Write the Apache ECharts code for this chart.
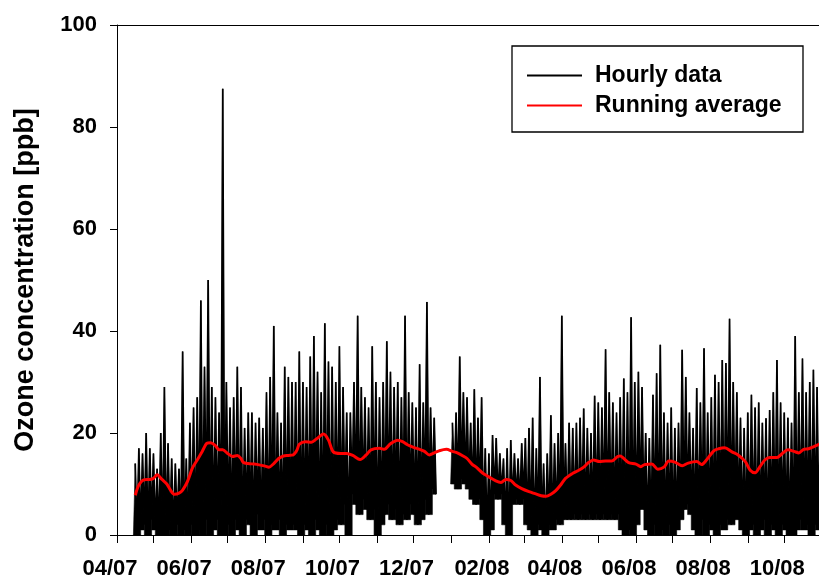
<!DOCTYPE html>
<html>
<head>
<meta charset="utf-8">
<title>Ozone concentration</title>
<script src="https://cdn.jsdelivr.net/npm/echarts@6/dist/echarts.min.js"></script>
<style>
  html, body { margin: 0; padding: 0; background: #fff; }
  #chart { width: 819px; height: 580px; }
</style>
</head>
<body>
<div id="chart"></div>
<script>
// Hourly ozone record, condensed to the highest and lowest reading of each 3-day block
const hourlyStart = '2007-04-16';
const hourlyStepDays = 3;
const hourlyHigh = [
  14, 17, 16, 20, 17, 16, 13, 20, 29, 18, 15, 14, 13, 36, 15, 22, 25, 27, 46, 33,
  50, 29, 27, 24, 87.5, 30, 25, 27, 33, 29, 21, 24, 24, 22, 23, 21, 28, 31, 41, 24,
  22, 33, 31, 30, 30, 36, 30, 29, 35, 39, 32, 28, 41.5, 34, 33, 30, 37, 29, 24, 24,
  30, 43, 29, 27, 25, 37, 30, 27, 30, 38, 32, 29, 30, 27, 43, 28, 26, 25, 33.5, 26,
  45.7, 25, 23, null, null, null, null, 22, 24, 35, 28, 27, 22, 28.6, 23, 27, 17, 16, 19.6, 19,
  16, 15, 17, 18.6, 16, 15, 18, 19, 21, 23, 17, 31, 14, 16, 23.5, 18, 20, 43, 18, 22,
  21, 22, 23, 24.8, 21, 20, 27.3, 26, 25, 36.4, 28, 26, 24, 27, 30.7, 28, 42.7, 30, 32, 29,
  20, 19, 27.5, 31.7, 37.3, 24, 22, 25, 21, 22, 36.3, 31, 24, 21, 28.8, 26, 36.6, 24, 27, 31.4,
  30, 34.3, 33.7, 42.4, 30, 28, 23, 21, 24, 27.5, 25, 26, 22, 22.9, 24.5, 28, 34.3, 26, 24, 23,
  22, 39, 28, 34.6, 28, 30, 32.4, 29, 27
];
const hourlyLow = [
  0, 1, 2, 0, 3, 1, 0, 0, 0, 1, 0, 2, 0, 1, 0, 2, 0, 1, 0, 3,
  0, 1, 3, 0, 0, 2, 0, 3, 1, 0, 3, 2, 0, 4, 1, 3, 0, 2, 1, 3,
  0, 2, 1, 2, 1, 0, 2, 1, 0, 3, 1, 0, 2, 0, 1, 3, 2, 6, 0, 8,
  6, 4, 7, 5, 3, 5, 0, 2, 4, 6, 3, 5, 2, 4, 3, 6, 4, 2, 3, 7,
  4, 9, 8, null, null, null, null, 10, 9, 11, 10, 9, 7, 6, 7, 3, 0, 1, 8, 7,
  8, 2, 0, 6, 7, 6, 7, 2, 1, 0, 2, 1, 0, 2, 1, 3, 2, 3, 3, 3,
  4, 3, 4, 3, 4, 3, 4, 3, 4, 3, 4, 3, 4, 1, 0, 1, 0, 2, 5, 5,
  1, 0, 2, 0, 1, 0, 2, 0, 1, 3, 5, 6, 4, 1, 0, 3, 0, 2, 1, 0,
  2, 1, 3, 2, 4, 3, 1, 0, 1, 2, 0, 1, 3, 0, 2, 1, 0, 2, 1, 0,
  0, 1, 3, 1, 2, 0, 2, 1, 3
];

// Running average: days after 1 April 2007 and the averaged concentration
const avgDay = [
  15, 18, 22, 27, 30, 33, 37, 41, 44, 47, 51, 54, 58, 62, 66, 70, 74, 77, 81, 84,
  87, 91, 95, 99, 102, 104, 108, 113, 118, 122, 125, 129, 133, 137, 141, 145, 148, 150, 155, 160,
  164, 170, 174, 178, 184, 189, 194, 200, 205, 209, 216, 220, 225, 231, 235, 239, 244, 249, 253, 257,
  261, 265, 271, 276, 280, 284, 288, 292, 296, 301, 306, 311, 316, 320, 324, 328, 333, 339, 344, 349,
  353, 357, 361, 365, 369, 375, 380, 384, 388, 392, 397, 402, 407, 412, 414, 417, 421, 427, 431, 434,
  440, 445, 450, 454, 459, 465, 470, 477, 481, 485, 491, 495, 500, 506, 511, 517, 521, 525, 529, 533,
  537, 543, 547, 552, 557, 561, 565, 569, 573, 578
];
const avgValue = [
  7.8, 9.8, 10.8, 10.9, 11.1, 11.8, 10.9, 10, 8.8, 8, 8.2, 8.8, 10.5, 13.1, 14.7, 16.3, 18, 18.1, 17.5, 16.7,
  16.7, 16, 15.4, 15.6, 15, 14.2, 14, 13.9, 13.7, 13.5, 13.3, 14, 15, 15.5, 15.6, 15.7, 16.6, 17.8, 18.3, 18.2,
  18.8, 19.8, 18.6, 16.3, 16, 16, 15.6, 14.8, 15.7, 16.7, 17, 16.8, 17.9, 18.6, 18.3, 17.7, 17.2, 16.8, 16.4, 15.7,
  16.1, 16.5, 16.8, 16.4, 16.1, 15.6, 15, 13.9, 13.2, 12.1, 11.4, 10.7, 10.3, 10.9, 10.7, 9.8, 9.1, 8.5, 8.1, 7.7,
  7.6, 8, 8.7, 9.8, 11.1, 12.1, 12.7, 13.3, 14.2, 14.7, 14.4, 14.5, 14.5, 15.4, 15.5, 15, 14.2, 13.9, 13.4, 13.8,
  13.9, 12.9, 13.3, 14.5, 14.3, 13.6, 14.1, 14.4, 13.8, 14.7, 16.5, 16.9, 17.1, 16.3, 15.7, 14.4, 12.7, 12.2, 13.4, 14.7,
  15.2, 15.2, 15.9, 16.7, 16.4, 16.1, 16.8, 16.9, 17.3, 17.8
];

// Axis ticks (every month) and labelled months
const axisStartDate = '2007-04-01';
const axisSpanDays = 577.6;
const tickMonths = [
  '2007-04-01', '2007-05-01', '2007-06-01', '2007-07-01', '2007-08-01', '2007-09-01', '2007-10-01',
  '2007-11-01', '2007-12-01', '2008-01-01', '2008-02-01', '2008-03-01', '2008-04-01', '2008-05-01',
  '2008-06-01', '2008-07-01', '2008-08-01', '2008-09-01', '2008-10-01'
];
const labelMonths = [
  '2007-04-01', '2007-06-01', '2007-08-01', '2007-10-01', '2007-12-01',
  '2008-02-01', '2008-04-01', '2008-06-01', '2008-08-01', '2008-10-01'
];
const labelText = ['04/07', '06/07', '08/07', '10/07', '12/07', '02/08', '04/08', '06/08', '08/08', '10/08'];
const yTicks = [0, 20, 40, 60, 80, 100];

// The x axis runs in days counted from the start date
const DAY = 86400000;
function utc(s) {
  const p = s.split('-').map(Number);
  return Date.UTC(p[0], p[1] - 1, p[2]);
}
function dayOf(s) {
  return (utc(s) - utc(axisStartDate)) / DAY;
}

// Zig-zag between block maximum and minimum to show the spread of the hourly values
const half = hourlyStepDays / 2;
const hourlyData = [];
const blockData = [];
const d0 = dayOf(hourlyStart);
for (let i = 0; i < hourlyHigh.length; i++) {
  const d = d0 + i * hourlyStepDays;
  hourlyData.push([d, hourlyHigh[i]]);
  hourlyData.push([d + half, hourlyLow[i]]);
  if (hourlyHigh[i] !== null) {
    const prevLow = (i > 0 && hourlyLow[i - 1] !== null) ? hourlyLow[i - 1] : hourlyLow[i];
    blockData.push([d, hourlyHigh[i], prevLow, hourlyLow[i]]);
  }
}
const avgData = avgDay.map((d, i) => [d, avgValue[i]]);

const tickDays = tickMonths.map(dayOf);
const labelDays = labelMonths.map(dayOf);

const FONT = "'Liberation Sans', Arial, Helvetica, sans-serif";

// Filled body of each block: from the lower of its two minima up to the block peak
function renderBlock(params, api) {
  const d = api.value(0);
  const lowA = api.value(2);
  const lowB = api.value(3);
  const floor = Math.min(lowA, lowB);
  const pts = [
    api.coord([d - half, floor]),
    api.coord([d - half, lowA]),
    api.coord([d, api.value(1)]),
    api.coord([d + half, lowB]),
    api.coord([d + half, floor])
  ];
  return {
    type: 'polygon',
    shape: { points: pts },
    style: { fill: '#000', stroke: '#000', lineWidth: 0.6 }
  };
}

const chart = echarts.init(document.getElementById('chart'), null, { renderer: 'canvas' });
chart.setOption({
  animation: false,
  backgroundColor: '#ffffff',
  grid: { left: 117, right: 0, top: 25, bottom: 45 },
  legend: {
    orient: 'vertical',
    left: 526,
    top: 60.5,
    padding: 0,
    itemGap: 0,
    itemWidth: 55,
    itemHeight: 14,
    selectedMode: false,
    itemStyle: { opacity: 0 },
    data: ['Hourly data', 'Running average'],
    textStyle: {
      fontFamily: FONT, fontSize: 23, fontWeight: 'bold', color: '#000',
      lineHeight: 30, padding: [0, 0, 0, 8]
    }
  },
  graphic: [{
    type: 'rect',
    z: 3,
    shape: { x: 512, y: 46, width: 291, height: 86 },
    style: { fill: '#ffffff', stroke: '#000000', lineWidth: 1.3 }
  }],
  xAxis: [{
    type: 'value',
    min: 0,
    max: axisSpanDays,
    axisLine: { show: true, lineStyle: { color: '#000', width: 1 } },
    axisTick: { show: true, customValues: tickDays, length: 8, lineStyle: { color: '#000', width: 1 } },
    axisLabel: {
      customValues: labelDays,
      hideOverlap: false,
      margin: 23,
      padding: [0, 14, 0, 0],
      color: '#000',
      fontFamily: FONT,
      fontSize: 22,
      fontWeight: 'bold',
      formatter: function (value) {
        for (let i = 0; i < labelDays.length; i++) {
          if (Math.abs(labelDays[i] - value) < 0.5) return labelText[i];
        }
        return '';
      }
    },
    splitLine: { show: false }
  }, {
    type: 'value',
    position: 'top',
    min: 0,
    max: axisSpanDays,
    axisLine: { show: true, lineStyle: { color: '#000', width: 1 } },
    axisTick: { show: false },
    axisLabel: { show: false },
    splitLine: { show: false }
  }],
  yAxis: {
    type: 'value',
    min: yTicks[0],
    max: yTicks[yTicks.length - 1],
    interval: yTicks[1] - yTicks[0],
    name: 'Ozone concentration [ppb]',
    nameLocation: 'middle',
    nameGap: 78,
    nameRotate: 90,
    nameTextStyle: { fontFamily: FONT, fontSize: 27, fontWeight: 'bold', color: '#000' },
    axisLine: { show: true, lineStyle: { color: '#000', width: 1 } },
    axisTick: { show: true, length: 7, lineStyle: { color: '#000', width: 1 } },
    axisLabel: { margin: 20, color: '#000', fontFamily: FONT, fontSize: 22, fontWeight: 'bold' },
    splitLine: { show: false }
  },
  series: [{
    name: 'Hourly data',
    type: 'line',
    xAxisIndex: 0,
    data: hourlyData,
    symbol: 'none',
    connectNulls: false,
    lineStyle: { color: '#000', width: 1.7 },
    itemStyle: { color: '#000' },
    z: 2
  }, {
    name: 'Hourly data',
    type: 'custom',
    xAxisIndex: 0,
    clip: true,
    data: blockData,
    encode: { x: 0, y: 1 },
    renderItem: renderBlock,
    itemStyle: { color: '#000' },
    silent: true,
    z: 2
  }, {
    name: 'Running average',
    type: 'line',
    xAxisIndex: 0,
    data: avgData,
    symbol: 'none',
    smooth: 0.3,
    lineStyle: { color: '#ff0000', width: 3 },
    itemStyle: { color: '#ff0000' },
    z: 3
  }]
});
</script>
</body>
</html>
